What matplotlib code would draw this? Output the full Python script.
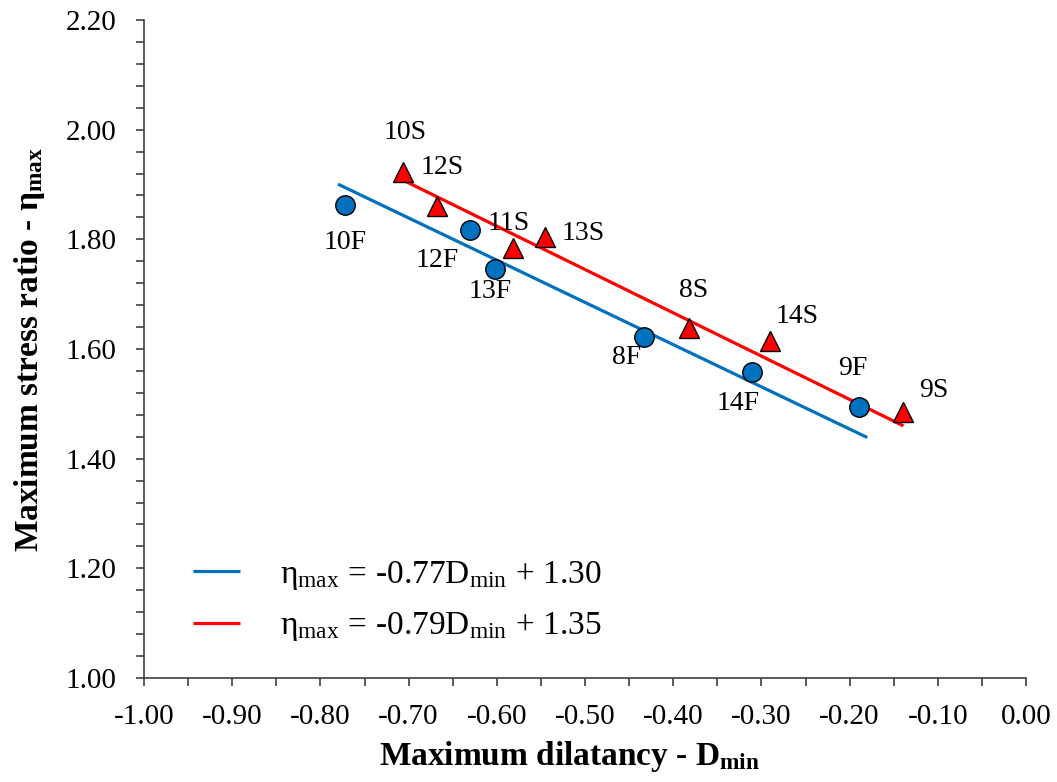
import matplotlib
matplotlib.use("Agg")
import matplotlib.pyplot as plt
from matplotlib.ticker import MultipleLocator, FormatStrFormatter

plt.rcParams['font.family'] = ['Liberation Serif', 'DejaVu Serif']
plt.rcParams['mathtext.fontset'] = 'custom'
plt.rcParams['mathtext.rm'] = 'Liberation Serif'
plt.rcParams['mathtext.it'] = 'Liberation Serif:italic'
plt.rcParams['mathtext.bf'] = 'Liberation Serif:bold'

# Data
f_labels = ['10F', '12F', '13F', '8F', '14F', '9F']
f_x = [-0.772, -0.630, -0.602, -0.433, -0.311, -0.189]
f_y = [1.863, 1.817, 1.746, 1.622, 1.558, 1.494]

s_labels = ['10S', '12S', '11S', '13S', '8S', '14S', '9S']
s_x = [-0.706, -0.668, -0.582, -0.545, -0.382, -0.290, -0.139]
s_y = [1.923, 1.861, 1.784, 1.804, 1.638, 1.615, 1.485]

# Trend lines: eta = a*D + b
f_fit = (-0.77, 1.30)
s_fit = (-0.79, 1.35)
f_line_x = [-0.78, -0.18]
s_line_x = [-0.706, -0.139]

# label offsets in pixels (dx, dy) (screen coords, y up)
f_off = [(0, -38), (-33, -30), (-5, -23), (-17, -21), (-14, -31), (-6, 39)]
s_off = [(2, 39), (5, 38), (-4, 25), (38, 4), (5, 38), (27, 24), (30, 22)]

blue = '#0070C0'
red = '#FF0000'
axcol = '#404040'

fig = plt.figure(figsize=(10.57, 7.82), dpi=100)
ax = fig.add_axes([144/1057, 1-678/782, (1026-144)/1057, (678-20)/782])

bx = f_line_x
by = [f_fit[0]*x + f_fit[1] for x in bx]
rx = s_line_x
ry = [s_fit[0]*x + s_fit[1] for x in rx]
ax.plot(bx, by, color=blue, lw=2.3, solid_capstyle='butt',
        label='$\\mathrm{\\eta_{max}\\,=\\,\u2010' + '0.77D_{min}\\,+\\,1.30}$', zorder=2)
ax.plot(rx, ry, color=red, lw=2.3, solid_capstyle='butt',
        label='$\\mathrm{\\eta_{max}\\,=\\,\u2010' + '0.79D_{min}\\,+\\,1.35}$', zorder=2)

ax.plot(f_x, f_y, 'o', ms=14, mfc=blue, mec='black', mew=1.0, ls='none', zorder=3)
ax.plot(s_x, s_y, '^', ms=14, mfc=red, mec='black', mew=1.0, ls='none', zorder=3)

px2pt = 72/100
for lab, x, y, (dx, dy) in zip(f_labels, f_x, f_y, f_off):
    ax.annotate(lab, (x, y), xytext=(dx*px2pt, dy*px2pt), textcoords='offset points',
                ha='center', va='center', fontsize=20)
for lab, x, y, (dx, dy) in zip(s_labels, s_x, s_y, s_off):
    ax.annotate(lab, (x, y), xytext=(dx*px2pt, dy*px2pt), textcoords='offset points',
                ha='center', va='center', fontsize=20)

ax.set_xlim(-1.0, 0.0)
ax.set_ylim(1.0, 2.2)
ax.xaxis.set_major_locator(MultipleLocator(0.1))
ax.xaxis.set_minor_locator(MultipleLocator(0.05))
ax.yaxis.set_major_locator(MultipleLocator(0.2))
ax.yaxis.set_minor_locator(MultipleLocator(0.04))
ax.xaxis.set_major_formatter(FormatStrFormatter('%.2f'))
ax.yaxis.set_major_formatter(FormatStrFormatter('%.2f'))

for s in ['top', 'right']:
    ax.spines[s].set_visible(False)
for s in ['left', 'bottom']:
    ax.spines[s].set_color(axcol)
    ax.spines[s].set_linewidth(1.2)
ax.tick_params(which='both', direction='out', length=6, width=1.2, color=axcol)
ax.tick_params(axis='x', which='major', pad=13, labelsize=21)
ax.tick_params(axis='y', which='major', pad=14, labelsize=21)

ax.set_xlabel(r'Maximum dilatancy - D$_{\mathbf{min}}$', fontsize=24, fontweight='bold', labelpad=6)
ax.set_ylabel(r'Maximum stress ratio - η$_{\mathbf{max}}$', fontsize=24, fontweight='bold', labelpad=13)
ax.xaxis.label.set_x((570-144)/882)
ax.yaxis.label.set_y((678-349)/658)

leg = ax.legend(loc='upper left', bbox_to_anchor=(163/1057, 1-529/782), bbox_transform=fig.transFigure,
                frameon=False, fontsize=24, handlelength=1.4, handletextpad=1.2, labelspacing=0.55)

fig.savefig('out.png', dpi=100)
